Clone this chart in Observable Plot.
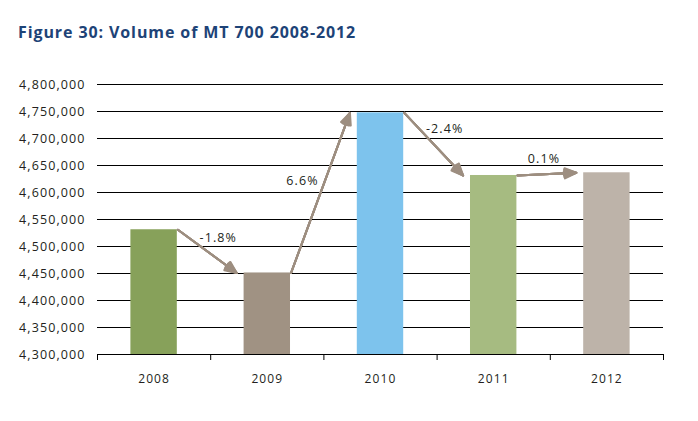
<!DOCTYPE html>
<html><head><meta charset="utf-8">
<script src="https://cdn.jsdelivr.net/npm/d3@7"></script>
<script src="https://cdn.jsdelivr.net/npm/@observablehq/plot@0.6"></script>
<style>
html,body{margin:0;padding:0;background:#fff;}
body{width:698px;height:421px;overflow:hidden;position:relative;font-family:"Open Sans",sans-serif;}
#title{position:absolute;left:18px;top:21px;font-weight:700;font-size:16px;color:#1d4377;letter-spacing:0.9px;white-space:nowrap;}
#chart{position:absolute;left:0;top:60px;}
#chart svg text{letter-spacing:1.1px;}
</style>
</head><body>
<div id="title">Figure 30: Volume of MT 700 2008-2012</div>
<div id="chart"></div>
<script>
// ---- data ----
const years = [2008, 2009, 2010, 2011, 2012];
const volumes = [4531000, 4451000, 4747500, 4631500, 4636500];
const changeLabels = ["-1.8%", "6.6%", "-2.4%", "0.1%"];
const barColors = ["#87a15a", "#a09283", "#7dc3ed", "#a6bb81", "#bdb3a9"];
const yTickValues = [4300000, 4350000, 4400000, 4450000, 4500000, 4550000, 4600000, 4650000, 4700000, 4750000, 4800000];

// ---- build tables ----
const bars = years.map((y, i) => ({year: y, value: volumes[i], color: barColors[i]}));
const transitions = changeLabels.map((label, i) => ({
  from: years[i], to: years[i + 1], v1: volumes[i], v2: volumes[i + 1], label
}));
const boundaries = years.map(y => y - 0.5).concat([years[years.length - 1] + 0.5]);

// label placement offsets (px), styling only
const labelOffsets = [[11, -13], [-18, -12], [11, -15], [-3, -15]];

const arrowColor = "#9d8e80";
const textColor = "#231f20";
const arrowOpts = {
  x1: d => d.from + 0.21, y1: "v1",
  x2: d => d.to - 0.27, y2: "v2",
  stroke: arrowColor, strokeWidth: 2, headLength: 9.5
};

const marks = [
  Plot.ruleY(yTickValues, {stroke: "#000", strokeWidth: 1}),
  Plot.rectY(bars, {x1: d => d.year - 0.205, x2: d => d.year + 0.205, y1: yTickValues[0], y2: "value", fill: "color"}),
  Plot.axisX(boundaries, {tickSize: 6, tickFormat: () => "", stroke: "#000"}),
  Plot.axisX(years, {tickSize: 0, tickPadding: 20, tickFormat: d => String(d), fontSize: 12, fill: textColor}),
  Plot.axisY(yTickValues, {tickSize: 0, tickPadding: 12, tickFormat: d3.format(","), fontSize: 12.5, fill: textColor, style: {letterSpacing: "1.7px"}}),
];
for (const a of [10, 20, 30, 40, 48]) {
  marks.push(Plot.arrow(transitions, {...arrowOpts, headAngle: a}));
}
transitions.forEach((t, i) => {
  marks.push(Plot.text([t], {
    x: d => ((d.from + 0.21) + (d.to - 0.27)) / 2,
    y: d => (d.v1 + d.v2) / 2,
    text: "label",
    dx: labelOffsets[i][0], dy: labelOffsets[i][1],
    fontSize: 12.5, fill: textColor
  }));
});

const chart = Plot.plot({
  width: 698,
  height: 340,
  marginLeft: 97,
  marginRight: 35,
  marginTop: 24,
  marginBottom: 46,
  style: {fontFamily: "'Open Sans', sans-serif", fontSize: "12px", background: "transparent"},
  x: {type: "linear", domain: [2007.5, 2012.5], axis: null},
  y: {domain: [4300000, 4800000], axis: null},
  color: {type: "identity"},
  marks
});
document.getElementById("chart").appendChild(chart);
</script>
</body></html>
